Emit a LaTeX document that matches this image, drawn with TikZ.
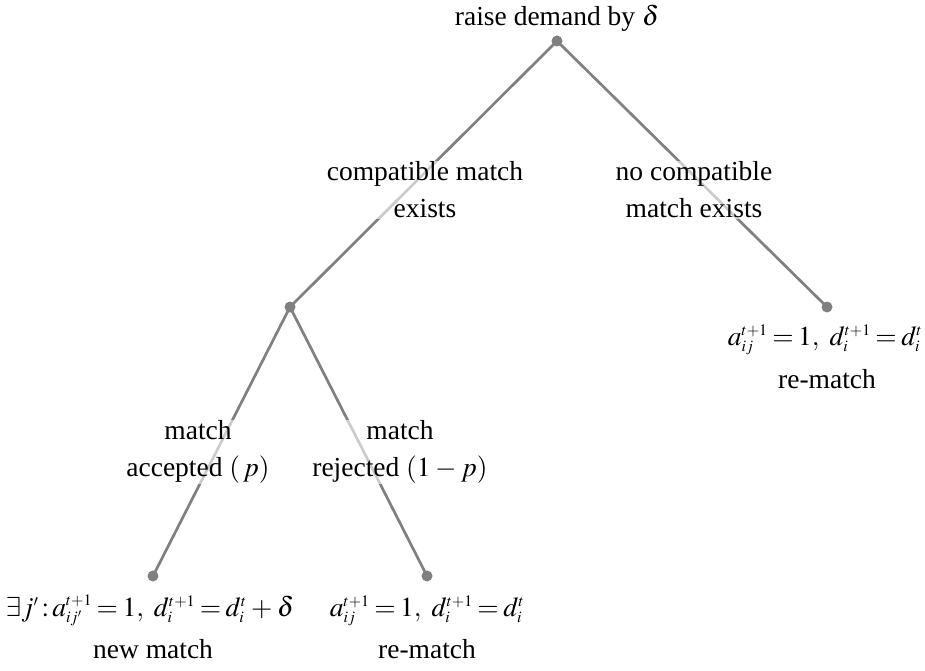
\documentclass[tikz,border=0pt]{standalone}
\usepackage{mathptmx}
\usepackage{fontspec}
\setmainfont{Liberation Serif}
\DeclareMathSizes{27.5}{27.5}{16}{12}
\thickmuskip=3mu plus 2mu
\medmuskip=3mu plus 1mu
\definecolor{edgegray}{HTML}{808080}
\begin{document}
\begin{tikzpicture}[x=1pt,y=-1pt,
  edge/.style={draw=edgegray,line width=2.7pt},
  dot/.style={circle,fill=edgegray,inner sep=0pt,minimum size=11pt},
  lbl/.style={font=\fontsize{27.5}{37}\selectfont,inner sep=0pt},
  elabel/.style={lbl,align=center,fill=white,fill opacity=0.6,text opacity=1,inner sep=1pt}]
\useasboundingbox (0,0) rectangle (925,671);
\coordinate (r) at (557,41);
\coordinate (m) at (290,307);
\coordinate (n) at (827,307);
\coordinate (a) at (153,576);
\coordinate (b) at (427,576);
\draw[edge] (r) -- (m);
\draw[edge] (r) -- (n);
\draw[edge] (m) -- (a);
\draw[edge] (m) -- (b);
\node[elabel] (l1) at (425,190) {compatible match\\exists};
\node[elabel] (l2) at (694,190) {no compatible\\match exists};
\node[elabel] (l3) at (198,452) {match\\accepted $\left(\,p\right)$};
\node[elabel] (l4) at (400,452) {match\\rejected $\left(1-p\right)$};
\node[dot] (rd) at (r) {};
\node[dot] (md) at (m) {};
\node[dot] (nd) at (n) {};
\node[dot] (ad) at (a) {};
\node[dot] (bd) at (b) {};
\node[lbl,anchor=base] (rt) at (557,26) {raise demand by $\delta$};
\node[lbl,anchor=base] (nm) at (825,345) {$a_{ij}^{t+1}=1,\ d_i^{t+1}=d_i^t$};
\node[lbl,anchor=base] (nt) at (827,388) {re-match};
\node[lbl,anchor=base] (am) at (150,616) {$\exists j'\,{:}\,a_{ij'}^{t+1}=1,\ d_i^{t+1}=d_i^t+\delta$};
\node[lbl,anchor=base] (at) at (153,658) {new match};
\node[lbl,anchor=base] (bm) at (427,616) {$a_{ij}^{t+1}=1,\ d_i^{t+1}=d_i^t$};
\node[lbl,anchor=base] (bt) at (427,658) {re-match};
\end{tikzpicture}
\end{document}
